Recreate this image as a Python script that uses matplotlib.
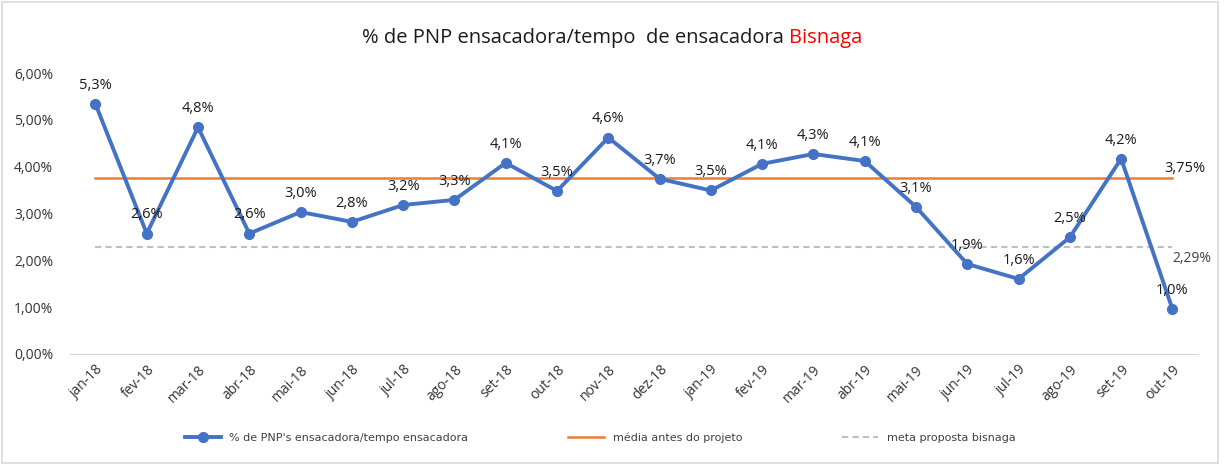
import matplotlib
matplotlib.use("Agg")
import matplotlib.pyplot as plt
from matplotlib.patches import Rectangle
from matplotlib.ticker import FuncFormatter

months = ["jan-18", "fev-18", "mar-18", "abr-18", "mai-18", "jun-18", "jul-18", "ago-18",
          "set-18", "out-18", "nov-18", "dez-18", "jan-19", "fev-19", "mar-19", "abr-19",
          "mai-19", "jun-19", "jul-19", "ago-19", "set-19", "out-19"]
pnp_pct = [5.34, 2.57, 4.84, 2.57, 3.03, 2.82, 3.18, 3.29, 4.08, 3.48, 4.62, 3.74,
           3.49, 4.06, 4.27, 4.12, 3.14, 1.92, 1.60, 2.49, 4.17, 0.96]
media_antes = 3.75
meta_bisnaga = 2.29

plt.rcParams["font.family"] = ["Open Sans", "DejaVu Sans"]

fig = plt.figure(figsize=(12.25, 4.65), dpi=100)
ax = fig.add_axes([0.057, 0.239, 0.921, 0.604])

x = list(range(len(months)))
blue, orange, gray = "#4472C4", "#ED7D31", "#BFBFBF"

ax.plot(x, pnp_pct, color=blue, lw=2.8, marker="o", ms=7,
        label="% de PNP's ensacadora/tempo ensacadora", zorder=3)
ax.plot(x, [media_antes] * len(x), color=orange, lw=1.8,
        label="média antes do projeto", zorder=2)
ax.plot(x, [meta_bisnaga] * len(x), color=gray, lw=1.5, ls=(0, (3, 2)),
        label="meta proposta bisnaga", zorder=2)

for xi, v in zip(x, pnp_pct):
    ax.annotate(f"{v:.1f}%".replace(".", ","), (xi, v), xytext=(0, 8),
                textcoords="offset points", ha="center", va="bottom",
                fontsize=10.5, color="#1a1a1a")

ax.annotate(f"{media_antes:.2f}%".replace(".", ","), (x[-1], media_antes), xytext=(-6, 2),
            textcoords="offset points", ha="left", va="bottom", fontsize=10.5, color="#1a1a1a")
ax.annotate(f"{meta_bisnaga:.2f}%".replace(".", ","), (x[-1], meta_bisnaga), xytext=(0, -3),
            textcoords="offset points", ha="left", va="top", fontsize=10, color="#404040")

ax.set_xlim(-0.5, len(x) - 0.5)
ax.set_ylim(0, 6)
ax.set_yticks(range(0, 7))
ax.yaxis.set_major_formatter(FuncFormatter(lambda v, p: f"{v:.2f}%".replace(".", ",")))
ax.set_xticks(x)
ax.set_xticklabels(months, rotation=45, ha="right", rotation_mode="anchor")
ax.tick_params(axis="both", length=0, labelsize=10, colors="#333333")
ax.tick_params(axis="x", pad=6)
ax.tick_params(axis="y", pad=12)
for side in ["top", "right", "left"]:
    ax.spines[side].set_visible(False)
ax.spines["bottom"].set_color("#D9D9D9")

# title with red suffix
t1 = fig.text(0.5, 0.918, "% de PNP ensacadora/tempo  de ensacadora ", ha="center", va="center",
              fontsize=14.5, color="#1a1a1a")
fig.canvas.draw()
r = fig.canvas.get_renderer()
bb1 = t1.get_window_extent(r)
t2 = fig.text(0, 0.918, "Bisnaga", ha="left", va="center", fontsize=14.5, color="#FF0000")
bb2 = t2.get_window_extent(r)
total = bb1.width + bb2.width
start = (fig.bbox.width - total) / 2
t1.set_ha("left")
t1.set_x(start / fig.bbox.width)
t2.set_x((start + bb1.width) / fig.bbox.width)

fig.legend(loc="center", bbox_to_anchor=(0.49, 0.058), ncol=3, frameon=False,
           columnspacing=9, handlelength=3.2, labelcolor="#404040",
           prop={"family": ["Liberation Sans Narrow", "DejaVu Sans"], "size": 8})

fig.patches.append(Rectangle((0.002, 0.004), 0.992, 0.992, transform=fig.transFigure,
                             fill=False, edgecolor="#D9D9D9", lw=1.2))

fig.savefig("out.png", dpi=100, facecolor="white")
